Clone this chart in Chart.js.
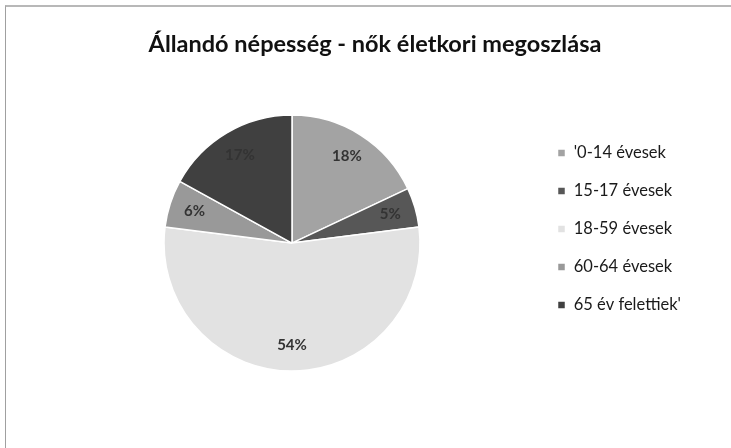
<!DOCTYPE html>
<html>
<head>
<meta charset="utf-8">
<script src="https://cdn.jsdelivr.net/npm/chart.js@4.4.0/dist/chart.umd.min.js"></script>
<style>
  html, body { margin: 0; padding: 0; background: #fff; }
  .wrap { position: relative; width: 731px; height: 448px; }
  .frame { position: absolute; left: 5px; top: 5px; right: 0; bottom: 0;
           border-left: 1px solid #a0a0a0; border-top: 2px solid #b8b8b8; pointer-events: none; }
</style>
</head>
<body>
<div class="wrap">
  <canvas id="pieChart" width="731" height="448"></canvas>
  <div class="frame"></div>
</div>
<script>
// korcsoportok es aranyuk (%)
const categories = ["'0-14 évesek", '15-17 évesek', '18-59 évesek', '60-64 évesek', "65 év felettiek'"];
const shares = [18, 5, 54, 6, 17];
const sliceColors = ['#a3a3a3', '#575757', '#e2e2e2', '#999999', '#404040'];

// szazalek cimkek a szeletekre
const pctLabels = {
  id: 'pctLabels',
  afterDatasetsDraw(chart) {
    const { ctx } = chart;
    const meta = chart.getDatasetMeta(0);
    const total = shares.reduce((a, b) => a + b, 0);
    ctx.save();
    ctx.font = 'bold 15px Lato';
    ctx.fillStyle = '#333333';
    ctx.textAlign = 'center';
    ctx.textBaseline = 'middle';
    meta.data.forEach((arc, i) => {
      const p = arc.getProps(['x', 'y', 'startAngle', 'endAngle', 'outerRadius'], true);
      const mid = (p.startAngle + p.endAngle) / 2;
      const r = p.outerRadius * 0.8;
      const txt = Math.round(shares[i] / total * 100) + '%';
      ctx.fillText(txt, p.x + Math.cos(mid) * r, p.y + Math.sin(mid) * r);
    });
    ctx.restore();
  }
};

// a jelmagyarazat szelessege fix, hogy a kor a helyen maradjon
const legendWidth = {
  id: 'legendWidth',
  beforeLayout(chart) {
    const lg = chart.legend;
    if (lg && !lg._fixedWidth) {
      const fit = lg.fit.bind(lg);
      lg.fit = function () { fit(); this.width = 166; };
      lg._fixedWidth = true;
    }
  }
};

new Chart(document.getElementById('pieChart'), {
  type: 'pie',
  data: {
    labels: categories,
    datasets: [{
      data: shares,
      backgroundColor: sliceColors,
      borderColor: '#ffffff',
      borderWidth: 1.5,
      radius: 128,
    }],
  },
  options: {
    responsive: false,
    animation: false,
    layout: { padding: { left: 48, right: 29, top: 0, bottom: 85 } },
    plugins: {
      title: {
        display: true,
        text: 'Állandó népesség - nők életkori megoszlása',
        color: '#111111',
        font: { family: 'Lato', size: 23.5, weight: 'bold' },
        padding: { top: 30, bottom: 65 },
      },
      legend: {
        position: 'right',
        align: 'start',
        fullSize: false,
        labels: {
          boxWidth: 8,
          boxHeight: 8,
          padding: 21.5,
          color: '#1a1a1a',
          font: { family: 'Lato', size: 16.5 },
        },
      },
      tooltip: { enabled: false },
    },
  },
  plugins: [pctLabels, legendWidth],
});
</script>
</body>
</html>
